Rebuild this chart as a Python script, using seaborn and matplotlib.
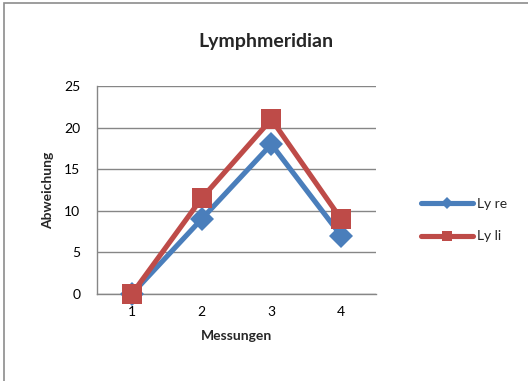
import matplotlib
matplotlib.use("Agg")
import matplotlib.pyplot as plt
import matplotlib.patches as mpatches
import seaborn as sns
import pandas as pd

messungen = ["1", "2", "3", "4"]
ly_re = [0, 9, 18, 7]
ly_li = [0, 11.5, 21, 9]
series_names = ["Ly re", "Ly li"]

sns.set_theme(style="white")
plt.rcParams["font.family"] = ["Lato", "DejaVu Sans"]

df = pd.DataFrame({
    "Messungen": messungen * 2,
    "Abweichung": ly_re + ly_li,
    "Serie": [series_names[0]] * 4 + [series_names[1]] * 4,
})
df["x"] = df["Messungen"].astype(int)

fig = plt.figure(figsize=(5.28, 3.81), dpi=100)
ax = fig.add_axes([97 / 528, 1 - 294 / 381, 279 / 528, 208 / 381])

# outer chart border
fig.add_artist(mpatches.Rectangle((4 / 528, -0.05), 1.2, (1 - 3 / 381) + 0.05,
                                  transform=fig.transFigure, fill=False,
                                  edgecolor="#8c8c8c", linewidth=1.2))

palette = {"Ly re": "#4a7ebb", "Ly li": "#be4b48"}
sns.lineplot(data=df, x="x", y="Abweichung", hue="Serie", style="Serie",
             markers={"Ly re": "D", "Ly li": "s"}, dashes=False,
             palette=palette, linewidth=3.7, markersize=12,
             markeredgewidth=0, ax=ax, legend=False, clip_on=False)
for line in ax.lines:
    if line.get_marker() == "s":
        line.set_markersize(15)
    line.set_zorder(3)

ax.set_xlim(0.5, 4.5)
ax.set_ylim(0, 25)
ax.set_yticks([0, 5, 10, 15, 20, 25])
ax.set_xticks([1, 2, 3, 4])
ax.set_xticklabels(messungen)
ax.yaxis.grid(True, color="#868686", linewidth=1.0)
ax.set_axisbelow(True)
for s in ["top", "right"]:
    ax.spines[s].set_visible(False)
for s in ["left", "bottom"]:
    ax.spines[s].set_color("#868686")
    ax.spines[s].set_linewidth(1.0)
ax.tick_params(axis="both", length=0, labelsize=10, colors="black", pad=12)
ax.tick_params(axis="x", pad=9)

ax.set_xlabel("Messungen", fontsize=10, fontweight="bold", labelpad=8)
ax.set_ylabel("Abweichung", fontsize=10, fontweight="bold", labelpad=7)
fig.text(266 / 528, 1 - 42 / 381, "Lymphmeridian", ha="center", va="center",
         fontsize=14, fontweight="bold")

# legend
handles = [
    plt.Line2D([], [], color=palette["Ly re"], linewidth=3.7, marker="D", markersize=6, markeredgewidth=0),
    plt.Line2D([], [], color=palette["Ly li"], linewidth=3.7, marker="s", markersize=7.5, markeredgewidth=0),
]
fig.legend(handles, series_names, loc="center left",
           bbox_to_anchor=(408 / 528, 1 - 220 / 381), frameon=False,
           fontsize=10, handlelength=3.8, labelspacing=1.5, handletextpad=0.3)

fig.savefig("out.png", dpi=100)
